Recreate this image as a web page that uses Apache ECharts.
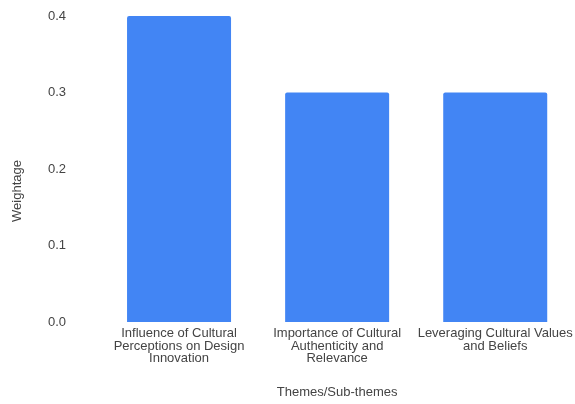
<!DOCTYPE html>
<html>
<head>
<meta charset="utf-8">
<script src="https://cdn.jsdelivr.net/npm/echarts@6/dist/echarts.min.js"></script>
<style>html,body{margin:0;padding:0;background:#fff;overflow:hidden}#c{width:575px;height:404px}</style>
</head>
<body>
<div id="c"></div>
<script>
var categories = [
  "Influence of Cultural\nPerceptions on Design\nInnovation",
  "Importance of Cultural\nAuthenticity and\nRelevance",
  "Leveraging Cultural Values\nand Beliefs"
];
var weightage = [0.4, 0.3, 0.3];
var yTicks = [0, 0.1, 0.2, 0.3, 0.4];

var FONT = 'Arial, "Liberation Sans", sans-serif';
var chart = echarts.init(document.getElementById('c'), null, {renderer: 'canvas', width: 575, height: 404});
chart.setOption({
  animation: false,
  backgroundColor: '#ffffff',
  textStyle: {fontFamily: FONT},
  grid: {left: 100, top: 16, bottom: 79, width: 479, containLabel: false},
  xAxis: {
    type: 'category',
    data: categories,
    name: 'Themes/Sub-themes',
    nameLocation: 'middle',
    nameGap: 64,
    nameTextStyle: {color: '#444', fontSize: 13, fontFamily: FONT},
    axisLine: {show: false},
    axisTick: {show: false},
    axisLabel: {color: '#444', fontSize: 13, lineHeight: 12.7, margin: 5, interval: 0, fontFamily: FONT},
    splitLine: {show: false}
  },
  yAxis: {
    type: 'value',
    min: yTicks[0],
    max: yTicks[yTicks.length - 1],
    interval: 0.1,
    axisLine: {show: false},
    axisTick: {show: false},
    splitLine: {show: false},
    axisLabel: {color: '#444', fontSize: 13, margin: 34, fontFamily: FONT,
      formatter: function (v) { return v.toFixed(1); }}
  },
  graphic: [{
    type: 'text',
    left: 11,
    top: 160,
    rotation: Math.PI / 2,
    style: {text: 'Weightage', fill: '#444', fontSize: 13, fontFamily: FONT}
  }],
  series: [{
    type: 'bar',
    data: weightage,
    barWidth: 104,
    itemStyle: {color: '#4285F4', borderRadius: [2, 2, 0, 0]}
  }]
});
</script>
</body>
</html>
